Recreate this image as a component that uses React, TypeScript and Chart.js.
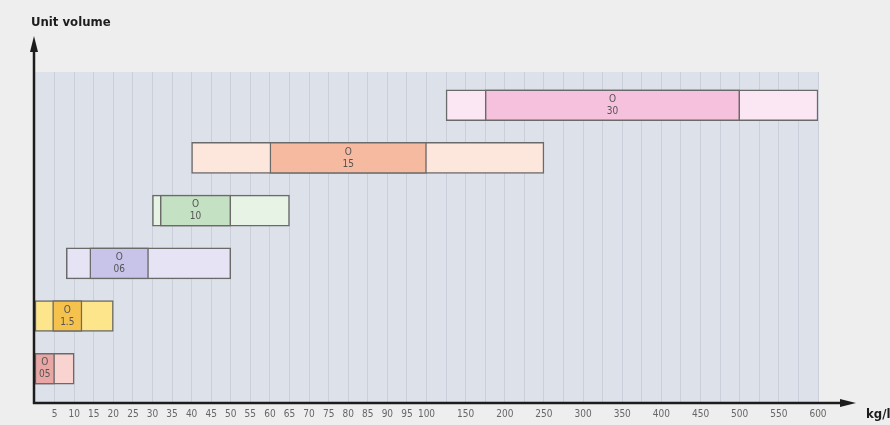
import React, { useEffect, useRef } from 'react';
import { Chart, registerables } from 'chart.js';

Chart.register(...registerables);

// ---- data (kg/m³) ----
const rowLabels = ['05', '1.5', '06', '10', '15', '30'];
const rowPositions = [1, 2, 3, 4, 5, 6];
const rangeStart = [0, 0, 8, 30, 40, 125];
const rangeEnd = [10, 20, 50, 65, 250, 600];
const coreStart = [0, 4.5, 14, 32, 60, 175];
const coreEnd = [5, 12, 29, 50, 100, 500];
const tickLabels = [
  '5', '10', '15', '20', '25', '30', '35', '40', '45', '50',
  '55', '60', '65', '70', '75', '80', '85', '90', '95', '100',
  '150', '200', '250', '300', '350', '400', '450', '500', '550', '600',
];
const yTitle = 'Unit volume';
const xTitle = 'kg/l';

// ---- styles ----
const lightColors = ['#f8d3d0', '#fde58c', '#e6e4f4', '#e6f3e5', '#fde7dd', '#fbe7f3'];
const darkColors = ['#e8a7a5', '#f5c24e', '#c8c3e9', '#c4e2c3', '#f6baa1', '#f5c1dd'];

// piecewise axis: 5-unit steps up to 100, 50-unit steps (double width) above
const toUnit = (v: number) => (v <= 100 ? v / 5 : 20 + (v - 100) / 25);
const unitLabel = (u: number) => {
  const found = tickLabels.find((l) => Math.abs(toUnit(Number(l)) - u) < 1e-6);
  return found ?? '';
};

const NARROW = "'Liberation Sans Narrow', 'DejaVu Sans Condensed', Arial, sans-serif";

const decorPlugin = {
  id: 'decor',
  beforeDraw(chart: any) {
    const { ctx, chartArea } = chart;
    ctx.save();
    ctx.fillStyle = '#eeeeee';
    ctx.fillRect(0, 0, chart.width, chart.height);
    ctx.fillStyle = '#dde1ea';
    ctx.fillRect(chartArea.left, chartArea.top, chartArea.right - chartArea.left, chartArea.bottom - chartArea.top);
    ctx.restore();
  },
  afterDatasetsDraw(chart: any) {
    const { ctx } = chart;
    const xs = chart.scales.x;
    const ys = chart.scales.y;
    ctx.save();
    ctx.fillStyle = '#555555';
    ctx.font = `10px ${NARROW}`;
    ctx.textAlign = 'center';
    ctx.textBaseline = 'middle';
    rowLabels.forEach((lab, i) => {
      const cx = (xs.getPixelForValue(toUnit(coreStart[i])) + xs.getPixelForValue(toUnit(coreEnd[i]))) / 2;
      const cy = ys.getPixelForValue(rowPositions[i]);
      ctx.fillText('O', cx, cy - 6);
      ctx.fillText(lab, cx, cy + 6);
    });
    ctx.restore();
  },
  afterDraw(chart: any) {
    const { ctx, chartArea } = chart;
    const ax = chartArea.left - 1;
    const ay = chartArea.bottom;
    ctx.save();
    ctx.strokeStyle = '#1c1c1c';
    ctx.fillStyle = '#1c1c1c';
    ctx.lineWidth = 2.5;
    // y axis
    ctx.beginPath();
    ctx.moveTo(ax, ay + 1);
    ctx.lineTo(ax, 48);
    ctx.stroke();
    ctx.beginPath();
    ctx.moveTo(ax, 36);
    ctx.lineTo(ax - 4, 52);
    ctx.lineTo(ax + 4, 52);
    ctx.closePath();
    ctx.fill();
    // x axis
    ctx.beginPath();
    ctx.moveTo(ax - 1, ay);
    ctx.lineTo(845, ay);
    ctx.stroke();
    ctx.beginPath();
    ctx.moveTo(856, ay);
    ctx.lineTo(840, ay - 4);
    ctx.lineTo(840, ay + 4);
    ctx.closePath();
    ctx.fill();
    // titles
    ctx.font = `bold 13px ${NARROW}`;
    ctx.textAlign = 'left';
    ctx.textBaseline = 'alphabetic';
    ctx.fillText(yTitle, 31, 26);
    ctx.fillText(xTitle, 866, 418);
    ctx.restore();
  },
};

export default function App() {
  const ref = useRef<HTMLCanvasElement | null>(null);
  useEffect(() => {
    if (!ref.current) return;
    const chart = new Chart(ref.current, {
      type: 'bar',
      data: {
        datasets: [
          {
            label: 'core',
            data: rowPositions.map((y, i) => ({ x: [toUnit(coreStart[i]), toUnit(coreEnd[i])], y })) as any,
            backgroundColor: darkColors,
            borderColor: '#6a6a6a',
            borderWidth: 1.5,
            borderSkipped: false,
            barThickness: 31,
            grouped: false,
          } as any,
          {
            label: 'range',
            data: rowPositions.map((y, i) => ({ x: [toUnit(rangeStart[i]), toUnit(rangeEnd[i])], y })) as any,
            backgroundColor: lightColors,
            borderColor: '#6a6a6a',
            borderWidth: 1.5,
            borderSkipped: false,
            barThickness: 31,
            grouped: false,
          } as any,
        ],
      },
      options: {
        responsive: false,
        animation: false,
        indexAxis: 'y',
        layout: { padding: { left: 35, right: 72, top: 72, bottom: 0 } },
        plugins: {
          legend: { display: false },
          tooltip: { enabled: false },
          title: { display: false },
        },
        scales: {
          x: {
            type: 'linear',
            min: 0,
            max: 40,
            afterBuildTicks: (scale: any) => {
              const t = [];
              for (let u = 1; u <= 40; u++) t.push({ value: u });
              scale.ticks = t;
            },
            ticks: {
              autoSkip: false,
              maxRotation: 0,
              padding: 5,
              color: '#666666',
              font: { size: 10, family: NARROW },
              callback: (v: any) => unitLabel(Number(v)),
            },
            grid: { color: '#cbcfd9', lineWidth: 1, drawTicks: false },
            border: { display: false },
          },
          y: {
            type: 'linear',
            min: 0.35,
            max: 6.63,
            offset: false,
            display: false,
          },
        },
      } as any,
      plugins: [decorPlugin],
    });
    return () => chart.destroy();
  }, []);
  return (
    <div style={{ position: 'absolute', left: 0, top: 0, width: 890, height: 425, overflow: 'hidden' }}>
      <canvas ref={ref} width={890} height={425} style={{ display: 'block', width: 890, height: 425 }} />
    </div>
  );
}
